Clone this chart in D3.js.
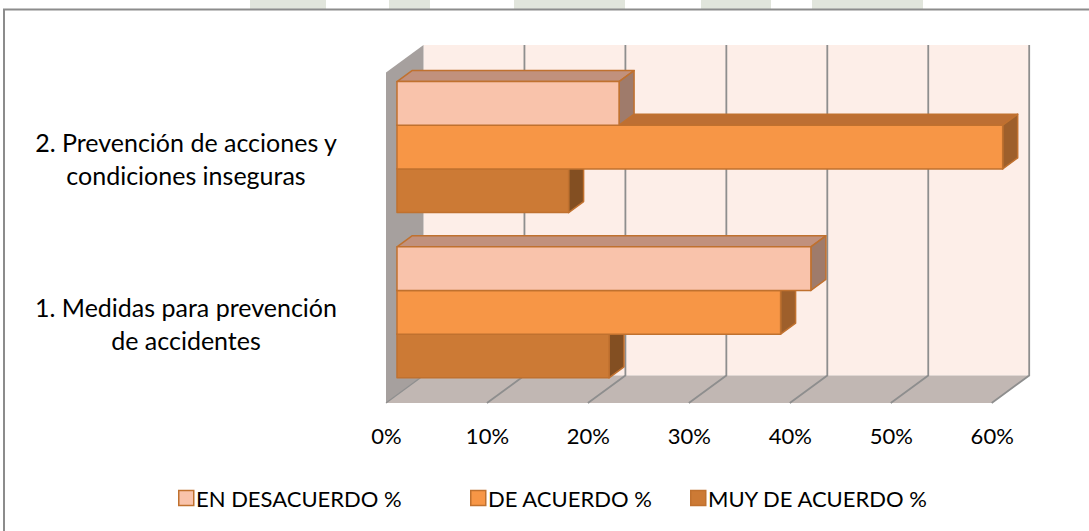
<!DOCTYPE html>
<html><head><meta charset="utf-8">
<script src="https://cdn.jsdelivr.net/npm/d3@7"></script>
<style>body{margin:0;background:#fff;overflow:hidden}</style>
</head><body><svg id="c" width="1089" height="531"></svg>
<script>
// ---- data ----
const categories = ["1. Medidas para prevención de accidentes", "2. Prevención de acciones y condiciones inseguras"];
const categoryLines = [["1. Medidas para prevención", "de accidentes"], ["2. Prevención de acciones y", "condiciones inseguras"]];
const seriesNames = ["EN DESACUERDO %", "DE ACUERDO %", "MUY DE ACUERDO %"];
const enDesacuerdo = [41, 22];
const deAcuerdo = [38, 60];
const muyDeAcuerdo = [21, 17];
const xTicks = [0, 10, 20, 30, 40, 50, 60];

const seriesValues = [enDesacuerdo, deAcuerdo, muyDeAcuerdo];
const faceColors = [
  {front: "#F9C3AB", top: "#C1917D", side: "#9F7B6B"},
  {front: "#F79646", top: "#BD6F33", side: "#9E5F2B"},
  {front: "#CC7A35", top: "#9A5C27", side: "#834F22"}
];
const FONT = "Lato, 'Liberation Sans', sans-serif";

const svg = d3.select("#c");

// watermark fragments above the chart frame
svg.append("g").selectAll("rect").data([[250, 76], [389, 41], [514, 111], [701, 70], [812, 111]])
  .join("rect").attr("x", d => d[0]).attr("y", 0).attr("width", d => d[1]).attr("height", 9)
  .attr("fill", "#E1E5DC");

// chart frame
svg.append("rect").attr("x", 4).attr("y", 9.5).attr("width", 1200).attr("height", 700)
  .attr("fill", "#fff").attr("stroke", "#8C8C8C").attr("stroke-width", 2);

// ---- 3D geometry ----
const x = d3.scaleLinear().domain([0, 60]).range([386, 991.7]);
const yTop = 72.5, yBot = 403;
const DX = 37.5, DY = -27.5;
const P = (v, yy, z) => [x(v) + z * DX, yy + z * DY];
const yCat = d3.scaleBand().domain([categories[1], categories[0]]).range([yTop, yBot])
  .paddingInner(0.207).paddingOuter(0.1035);
const ySer = d3.scaleBand().domain(seriesNames).range([0, yCat.bandwidth()]);
const zF = 0.293, zB = 0.693;
const poly = pts => "M" + pts.map(p => p.join(",")).join("L") + "Z";

const g = svg.append("g");
g.append("path").attr("d", poly([P(0, yTop, 1), P(60, yTop, 1), P(60, yBot, 1), P(0, yBot, 1)]))
  .attr("fill", "#FDEEE8");
g.append("path").attr("d", poly([P(0, yBot, 0), P(60, yBot, 0), P(60, yBot, 1), P(0, yBot, 1)]))
  .attr("fill", "#C1B7B3");
g.append("path").attr("d", poly([P(0, yTop, 0), P(0, yTop, 1), P(0, yBot, 1), P(0, yBot, 0)]))
  .attr("fill", "#A6A09E");
xTicks.filter(t => t > 0).forEach(t => {
  g.append("path").attr("d", "M" + P(t, yTop, 1) + "L" + P(t, yBot, 1) + "L" + P(t, yBot, 0))
    .attr("fill", "none").attr("stroke", "#8E8E8E").attr("stroke-width", 1.8);
});
g.append("path").attr("d", "M" + P(0, yBot, 1) + "L" + P(0, yBot, 0))
  .attr("fill", "none").attr("stroke", "#8E8E8E").attr("stroke-width", 1.2);

// ---- bars ----
const bars = g.append("g");
categories.forEach((cat, ci) => {
  for (let si = seriesNames.length - 1; si >= 0; si--) {
    const v = seriesValues[si][ci];
    const y0 = yCat(cat) + ySer(seriesNames[si]);
    const y1 = y0 + ySer.bandwidth();
    const c = faceColors[si];
    const bg = bars.append("g").attr("stroke", "#C0712F").attr("stroke-width", 1.5).attr("stroke-linejoin", "round");
    bg.append("path").attr("d", poly([P(0, y0, zF), P(v, y0, zF), P(v, y0, zB), P(0, y0, zB)])).attr("fill", c.top);
    bg.append("path").attr("d", poly([P(v, y0, zF), P(v, y0, zB), P(v, y1, zB), P(v, y1, zF)])).attr("fill", c.side);
    bg.append("path").attr("d", poly([P(0, y0, zF), P(v, y0, zF), P(v, y1, zF), P(0, y1, zF)])).attr("fill", c.front);
  }
});

// ---- x axis labels ----
const axis = d3.axisBottom(x).tickValues(xTicks).tickFormat(d => d + "%").tickSize(0).tickPadding(0);
const ax = svg.append("g").attr("transform", "translate(0,428)").call(axis);
ax.select(".domain").remove();
ax.selectAll("text").attr("font-family", FONT).attr("font-size", 22).attr("fill", "#000").attr("dy", "0.72em");

// ---- category labels ----
categories.forEach((cat, ci) => {
  const cy = yCat(cat) + yCat.bandwidth() / 2 + 3;
  const t = svg.append("text").attr("x", 186).attr("y", cy).attr("text-anchor", "middle")
    .attr("font-family", FONT).attr("font-size", 25).attr("fill", "#000");
  categoryLines[ci].forEach((ln, li) => {
    t.append("tspan").attr("x", 186).attr("y", cy + (li === 0 ? -16.5 : 16.5)).attr("dominant-baseline", "central").text(ln);
  });
});

// ---- legend ----
const legX = [178, 470, 690];
const leg = svg.append("g").attr("transform", "translate(0,498)");
seriesNames.forEach((s, si) => {
  const it = leg.append("g").attr("transform", `translate(${legX[si]},0)`);
  it.append("rect").attr("x", 0.75).attr("y", -7.5).attr("width", 15).attr("height", 15)
    .attr("fill", faceColors[si].front).attr("stroke", "#C0712F").attr("stroke-width", 1.5);
  it.append("text").attr("x", 18).attr("y", 0).attr("dominant-baseline", "central")
    .attr("font-family", FONT).attr("font-size", 22).attr("fill", "#000").text(s);
});
</script></body></html>
